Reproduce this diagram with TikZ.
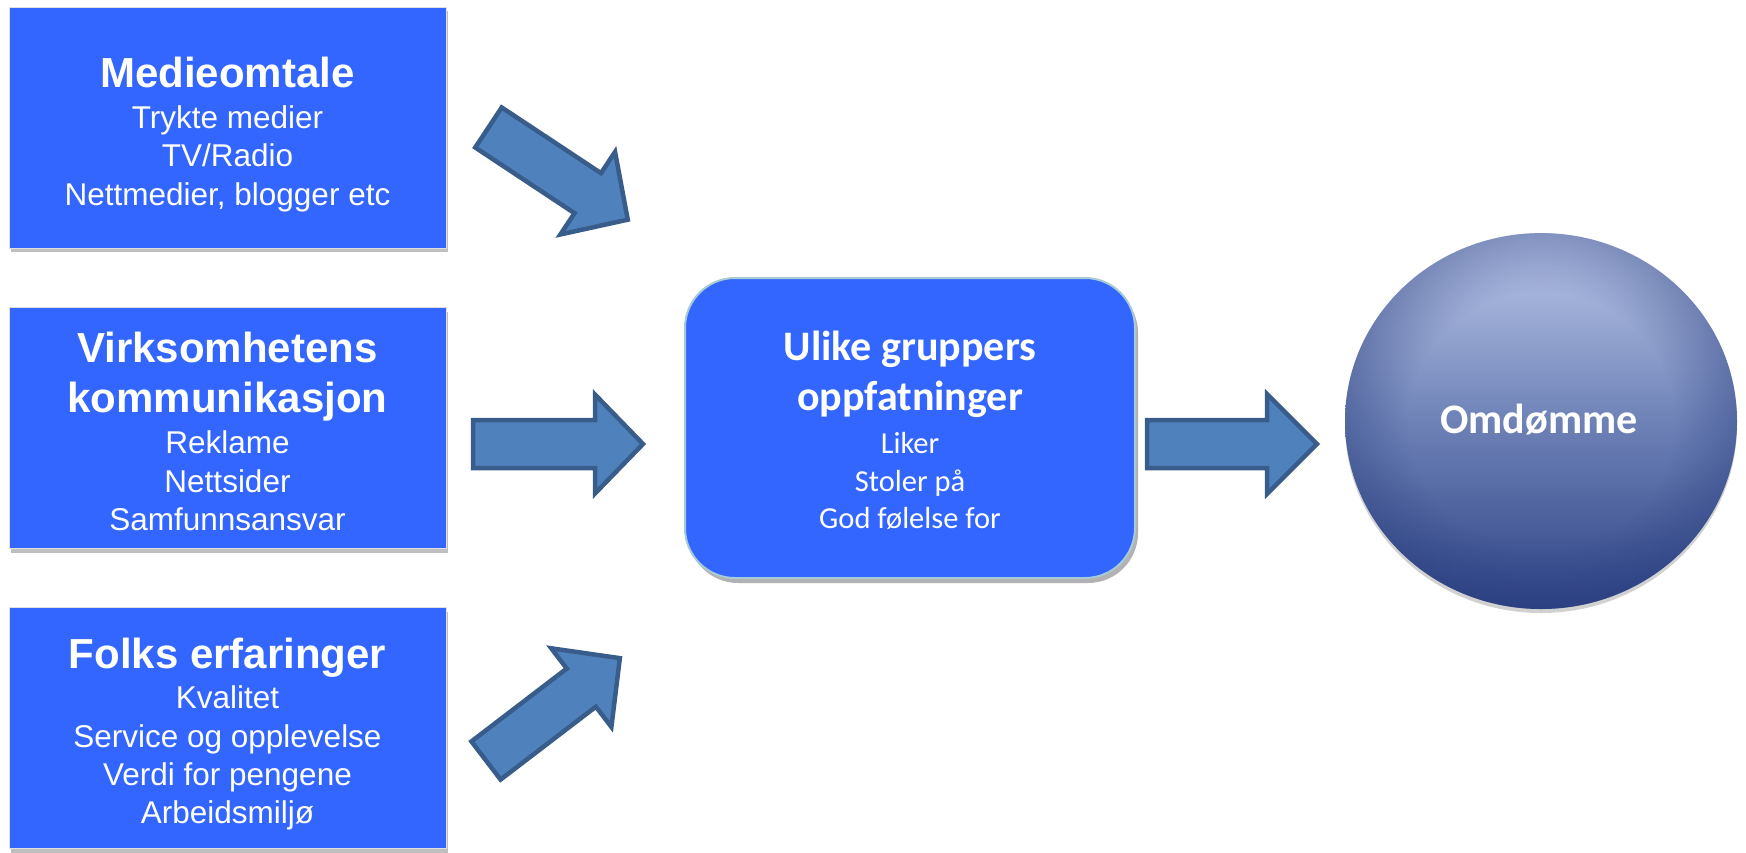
\documentclass[tikz,border=0pt]{standalone}
\usepackage{fontspec}
\setmainfont{Liberation Sans}
\newfontfamily\calfont{Carlito}
\usetikzlibrary{shapes.geometric,shadows,fadings}
\definecolor{boxblue}{HTML}{3366FF}
\definecolor{arrfill}{HTML}{4F81BD}
\definecolor{arrline}{HTML}{385D8A}
\definecolor{ctrborder}{HTML}{A6CAD6}
\definecolor{balltop}{HTML}{BCC9EA}
\definecolor{ballmid}{HTML}{6E82B7}
\definecolor{ballbot}{HTML}{2D4285}
\definecolor{ballrim}{HTML}{2A3E7E}
\pgfdeclareradialshading{rimshade}{\pgfpointorigin}{color(0bp)=(black); color(17bp)=(black); color(25bp)=(white!40!black); color(50bp)=(white!40!black)}
\pgfdeclarefading{rimfade}{\pgfuseshading{rimshade}}
\tikzset{
  srcbox/.style={rectangle, fill=boxblue, draw=black!12, line width=1pt,
    minimum width=437pt, minimum height=241pt, inner sep=0pt,
    drop shadow={shadow xshift=2pt, shadow yshift=-4pt, fill=black, opacity=0.25}},
  ctrbox/.style={rectangle, rounded corners=50pt, fill=boxblue, draw=ctrborder, line width=2pt,
    minimum width=450pt, minimum height=300pt, inner sep=0pt,
    drop shadow={shadow xshift=3pt, shadow yshift=-5pt, fill=black, opacity=0.3}},
  ttl/.style={anchor=base, inner sep=0pt, text=white, font=\fontsize{42}{50}\selectfont\bfseries},
  sub/.style={anchor=base, inner sep=0pt, text=white, font=\fontsize{31.5}{38}\selectfont},
  cttl/.style={anchor=base, inner sep=0pt, text=white, font=\calfont\fontsize{42}{50}\selectfont\bfseries},
  csub/.style={anchor=base, inner sep=0pt, text=white, font=\calfont\fontsize{30.5}{38}\selectfont},
  blockarr/.style={fill=arrfill, draw=arrline, line width=4.5pt, line join=miter, miter limit=10},
  pics/barrow/.style n args={3}{code={
    \draw[blockarr] (0,-24) -- (#1-#2,-24) -- (#1-#2,-#3) -- (#1,0) -- (#1-#2,#3) -- (#1-#2,24) -- (0,24) -- cycle;}}
}
\begin{document}
\begin{tikzpicture}[x=1pt,y=-1pt]
\useasboundingbox (0,0) rectangle (1746,852);
% source boxes
\node[srcbox] (b1) at (227.5,127.5) {};
\node[srcbox] (b2) at (227.5,428) {};
\node[srcbox] (b3) at (227.5,728) {};
% centre box
\node[ctrbox] (c) at (910,428) {};
% circle
\node[ellipse, minimum width=392pt, minimum height=376pt, inner sep=0pt,
  top color=balltop, bottom color=ballbot, middle color=ballmid,
  drop shadow={shadow xshift=0pt, shadow yshift=-4pt, fill=black, opacity=0.18}] (o) at (1541,421) {};
\fill[ballrim, path fading=rimfade, fit fading=true] (o.center) ellipse [x radius=196, y radius=188];
% texts box 1
\node[ttl] (m0) at (227.5,87) {Medieomtale};
\node[sub] (m1) at (227.5,128) {Trykte medier};
\node[sub] (m2) at (227.5,166) {TV/Radio};
\node[sub] (m3) at (227.5,205) {Nettmedier, blogger etc};
% texts box 2
\node[ttl] (v0) at (227.5,362) {Virksomhetens};
\node[ttl] (v1) at (227.5,412) {kommunikasjon};
\node[sub] (v2) at (227.5,453) {Reklame};
\node[sub] (v3) at (227.5,492) {Nettsider};
\node[sub] (v4) at (227.5,530) {Samfunnsansvar};
% texts box 3
\node[ttl] (f0) at (227.5,668) {Folks erfaringer};
\node[sub] (f1) at (227.5,708) {Kvalitet};
\node[sub] (f2) at (227.5,747) {Service og opplevelse};
\node[sub] (f3) at (227.5,785) {Verdi for pengene};
\node[sub] (f4) at (227.5,823) {Arbeidsmiljø};
% centre texts
\node[cttl] (u0) at (910,360) {Ulike gruppers};
\node[cttl] (u1) at (910,410) {oppfatninger};
\node[csub] (u2) at (910,453) {Liker};
\node[csub] (u3) at (910,491) {Stoler på};
\node[csub] (u4) at (910,528) {God følelse for};
% circle text
\node[anchor=base, inner sep=0pt, text=white, font=\calfont\fontsize{42}{50}\selectfont\bfseries] (ot) at (1539,433) {Omdømme};
% block arrows
\pic[rotate=-33.5] at (488.5,127.5) {barrow={167}{48}{49.5}};
\pic at (473,444) {barrow={170}{48}{49.5}};
\pic[rotate=37.4] at (486,760.5) {barrow={168.5}{48.5}{49.5}};
\pic at (1147,444) {barrow={170}{50}{50}};
\end{tikzpicture}
\end{document}
